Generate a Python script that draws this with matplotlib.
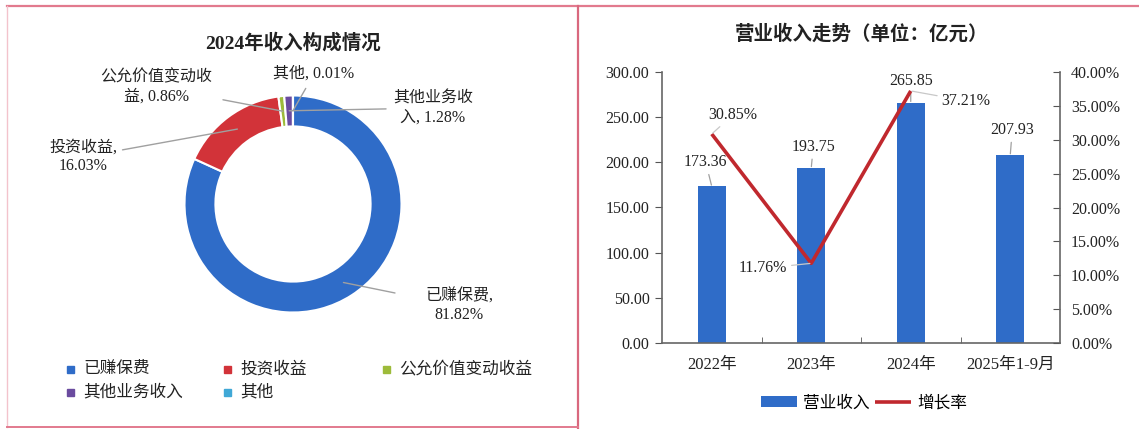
import matplotlib
matplotlib.use("Agg")
import matplotlib.pyplot as plt
from matplotlib.patches import Rectangle
import numpy as np

# ---------------- data ----------------
pie_labels = ["已赚保费", "投资收益", "公允价值变动收益", "其他业务收入", "其他"]
pie_values = [81.82, 16.03, 0.86, 1.28, 0.01]
pie_colors = ["#2F6CC8", "#D23339", "#9DBB3A", "#6A4B9F", "#40A8D6"]
pie_label_text = ["已赚保费,\n81.82%", "投资收益,\n16.03%", "公允价值变动收\n益, 0.86%",
                  "其他业务收\n入, 1.28%", "其他, 0.01%"]

years = ["2022年", "2023年", "2024年", "2025年1-9月"]
revenue = [173.36, 193.75, 265.85, 207.93]
growth = [30.85, 11.76, 37.21]  # percent, first three periods

W, H = 1139, 429
SERIF = ["Liberation Serif", "Noto Sans CJK SC"]
SANS = ["Noto Sans CJK SC", "DejaVu Sans"]
TXT = "#222222"

fig = plt.figure(figsize=(W / 100, H / 100), dpi=100)
fig.patch.set_facecolor("white")

def fx(px):
    return px / W

def fy(py):
    return 1 - py / H

# ---------------- overlay (frame + left legend) ----------------
ov = fig.add_axes([0, 0, 1, 1], zorder=0)
ov.set_xlim(0, W)
ov.set_ylim(H, 0)
ov.axis("off")
ov.patch.set_alpha(0)
bc = "#E27A8E"
ov.plot([7, W], [6, 6], color=bc, lw=1.6)
ov.plot([7, 7], [6, 427], color="#F3C3CC", lw=1.0)
ov.plot([578, 578], [6, H], color="#D9687E", lw=1.6)
ov.plot([7, 578], [427, 427], color=bc, lw=1.4)

# left legend
leg_pos = [(70, 369), (227, 369), (386, 369), (70, 392), (227, 392)]
for (x, y), lab, col in zip(leg_pos, pie_labels, pie_colors):
    ov.add_patch(Rectangle((x - 3.5, y - 3.5), 7, 7, color=col))
    ov.text(x + 13, y, lab, fontsize=12, family=SANS, color=TXT, va="center", ha="left")

# ---------------- donut ----------------
cx, cy, r = 293, 204, 108.5
axp = fig.add_axes([fx(cx - r), fy(cy + r), 2 * r / W, 2 * r / H], zorder=2)
wedges, _ = axp.pie(pie_values, colors=pie_colors, startangle=90, counterclock=False,
                    radius=1.0, wedgeprops=dict(width=0.285, edgecolor="white", linewidth=1.5))
axp.set_xlim(-1, 1)
axp.set_ylim(-1, 1)

fig.text(fx(293), fy(43), "2024年收入构成情况", fontsize=14, fontweight="bold",
         family=SERIF, color=TXT, ha="center", va="center")

label_pos = [(459, 306), (83, 157), (156, 87), (433, 108), (314, 74)]
label_shrink = [20, 2, 6, 3, 3]
total = sum(pie_values)
cum = 0.0
for v, txt, (tx, ty), sh in zip(pie_values, pie_label_text, label_pos, label_shrink):
    mid = np.deg2rad(90 - 360 * (cum + v / 2) / total)
    cum += v
    px, py = 0.86 * np.cos(mid), 0.86 * np.sin(mid)
    axp.annotate(txt, xy=(px, py), xycoords="data",
                 xytext=(tx, H - ty), textcoords="figure pixels",
                 fontsize=11.5, family=SERIF, color=TXT, ha="center", va="center",
                 linespacing=1.2, annotation_clip=False,
                 arrowprops=dict(arrowstyle="-", color="#A0A0A0", lw=1.0,
                                 shrinkA=sh, shrinkB=0))

# ---------------- bar + line chart ----------------
L, R, T, B = 662, 1060, 72, 343
ax = fig.add_axes([fx(L), fy(B), (R - L) / W, (B - T) / H], zorder=2)
ax2 = ax.twinx()
x = np.arange(len(years))
bars = ax.bar(x, revenue, width=0.285, color="#2F6CC8", zorder=2, label="营业收入")
ax.set_xlim(-0.5, len(years) - 0.5)
ax.set_ylim(0, 300)
ax.set_yticks(np.arange(0, 301, 50))
ax.set_yticklabels([f"{t:.2f}" for t in np.arange(0, 301, 50)])
ax.set_xticks(x)
ax.set_xticklabels(years)
ax.set_xticks(x[:-1] + 0.5, minor=True)
ax.tick_params(axis="x", which="major", length=0, pad=10)
ax.tick_params(axis="x", which="minor", length=4, direction="in", color="#555")
ax.tick_params(axis="y", length=5, direction="out", color="#555", pad=4)
for lab in ax.get_yticklabels():
    lab.set_family(SERIF)
    lab.set_fontsize(11.5)
    lab.set_color(TXT)
for lab in ax.get_xticklabels():
    lab.set_family(SERIF)
    lab.set_fontsize(12)
    lab.set_color(TXT)
for s in ["left", "bottom"]:
    ax.spines[s].set_color("#666")
    ax.spines[s].set_linewidth(1.2)
ax.spines["top"].set_visible(False)
ax.spines["right"].set_visible(False)

line, = ax2.plot(x[:len(growth)], growth, color="#C0282E", lw=2.6, zorder=3, label="增长率",
                 solid_capstyle="butt")
ax2.set_ylim(0, 40)
ax2.set_yticks(np.arange(0, 41, 5))
ax2.set_yticklabels([f"{t:.2f}%" for t in np.arange(0, 41, 5)])
ax2.tick_params(axis="y", length=5, direction="in", color="#555", pad=8)
for lab in ax2.get_yticklabels():
    lab.set_family(SERIF)
    lab.set_fontsize(11.5)
    lab.set_color(TXT)
ax2.spines["right"].set_color("#666")
ax2.spines["right"].set_linewidth(1.2)
for s in ["top", "left", "bottom"]:
    ax2.spines[s].set_visible(False)

bar_off = [(-6, 24), (2, 21), (0, 22), (2, 25)]
for xi, v, off in zip(x, revenue, bar_off):
    ax.annotate(f"{v:.2f}", xy=(xi, v), xytext=off, textcoords="offset pixels",
                fontsize=11.5, family=SERIF, color=TXT, ha="center", va="center",
                annotation_clip=False,
                arrowprops=dict(arrowstyle="-", color="#A0A0A0", lw=0.9, shrinkA=1, shrinkB=1))

line_off = [(21, 19), (-48, -5), (55, -10)]
for xi, v, off in zip(x, growth, line_off):
    ax2.annotate(f"{v:.2f}%", xy=(xi, v), xytext=off, textcoords="offset pixels",
                 fontsize=11.5, family=SERIF, color=TXT, ha="center", va="center",
                 annotation_clip=False,
                 arrowprops=dict(arrowstyle="-", color="#C8C8C8", lw=0.9, shrinkA=1, shrinkB=1))

fig.text(fx(862), fy(34), "营业收入走势（单位：亿元）", fontsize=14, fontweight="bold",
         family=SERIF, color=TXT, ha="center", va="center")

fig.legend(handles=[bars, line], labels=["营业收入", "增长率"],
           loc="center", bbox_to_anchor=(fx(864), fy(403)), ncol=2, frameon=False,
           prop=dict(family=SANS, size=12), handlelength=2.2, handleheight=0.6,
           handletextpad=0.35, columnspacing=0.3, borderpad=0)

fig.savefig("out.png", dpi=100, facecolor="white")
